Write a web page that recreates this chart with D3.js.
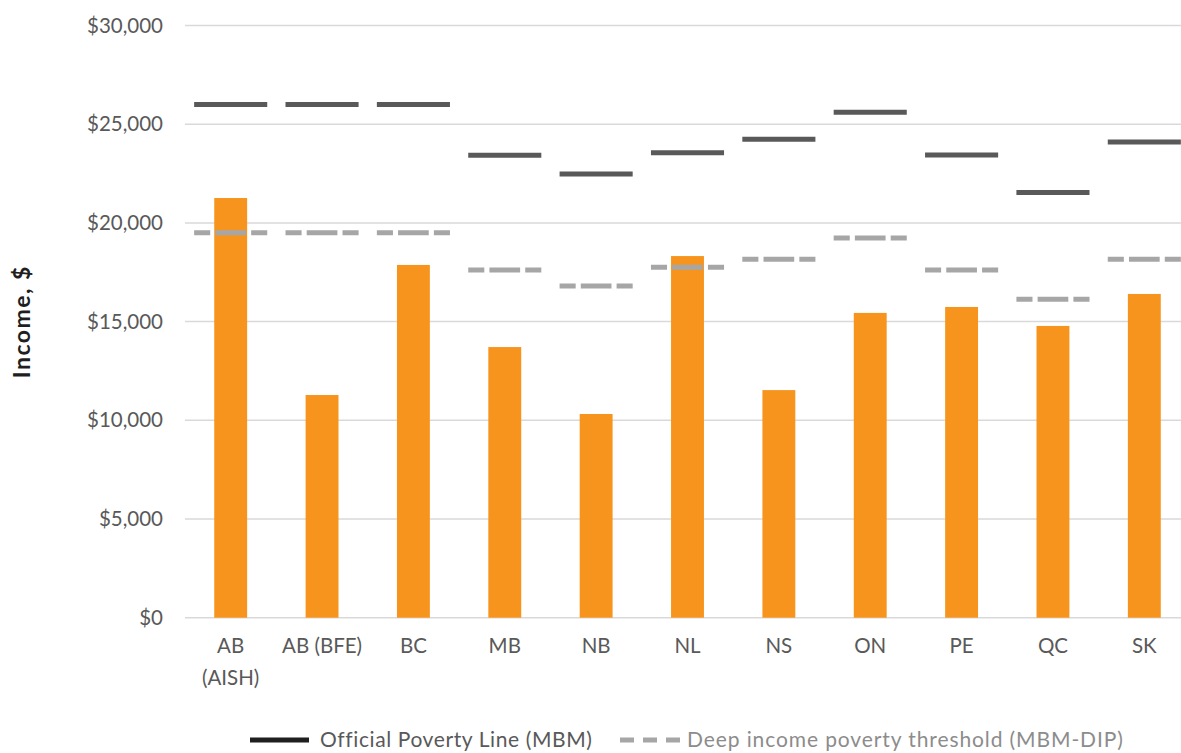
<!DOCTYPE html>
<html>
<head>
<meta charset="utf-8">
<script src="https://cdn.jsdelivr.net/npm/d3@7"></script>
<style>
  body { margin: 0; background: #fff; }
  svg { display: block; font-family: Lato, "Open Sans", sans-serif; }
</style>
</head>
<body>
<div id="chart"></div>
<script>
const categories = ["AB\n(AISH)", "AB (BFE)", "BC", "MB", "NB", "NL", "NS", "ON", "PE", "QC", "SK"];
const income = [21260, 11280, 17870, 13710, 10320, 18320, 11530, 15440, 15740, 14780, 16400];
const officialLine = [26000, 26000, 26000, 23430, 22480, 23560, 24240, 25600, 23440, 21540, 24100];
const deepLine = [19500, 19500, 19500, 17610, 16800, 17750, 18160, 19230, 17610, 16130, 18160];
const yTicks = [0, 5000, 10000, 15000, 20000, 25000, 30000];

const width = 1181;
const height = 753;
const margin = {top: 25.5, right: -9, bottom: 135.3, left: 185};

const svg = d3.select("#chart").append("svg")
  .attr("width", width)
  .attr("height", height);

const x = d3.scaleBand()
  .domain(d3.range(categories.length))
  .range([margin.left, width - margin.right])
  .padding(0);

const y = d3.scaleLinear()
  .domain([0, 30000])
  .range([height - margin.bottom, margin.top]);

const textColor = "#595959";

// gridlines
svg.append("g")
  .selectAll("line")
  .data(yTicks)
  .join("line")
  .attr("x1", margin.left)
  .attr("x2", width - margin.right)
  .attr("y1", d => y(d))
  .attr("y2", d => y(d))
  .attr("stroke", "#d9d9d9")
  .attr("stroke-width", 1.5);

// y axis labels
svg.append("g")
  .selectAll("text")
  .data(yTicks)
  .join("text")
  .attr("x", 163)
  .attr("y", d => y(d))
  .attr("dy", "0.35em")
  .attr("text-anchor", "end")
  .attr("font-size", "20.5px")
  .attr("fill", textColor)
  .text(d => "$" + d3.format(",")(d));

svg.append("text")
  .attr("transform", `translate(30, ${y(15000)}) rotate(-90)`)
  .attr("text-anchor", "middle")
  .attr("font-size", "23px")
  .attr("font-weight", "bold")
  .attr("letter-spacing", "1.5px")
  .attr("fill", "#1f1f1f")
  .text("Income, $");

// bars
const barW = x.bandwidth() * 0.36;
svg.append("g")
  .selectAll("rect")
  .data(income)
  .join("rect")
  .attr("x", (d, i) => x(i) + (x.bandwidth() - barW) / 2)
  .attr("y", d => y(d))
  .attr("width", barW)
  .attr("height", d => y(0) - y(d))
  .attr("fill", "#f7941d");

// poverty lines
const lineW = x.bandwidth() * 0.8;
svg.append("g")
  .selectAll("line")
  .data(officialLine)
  .join("line")
  .attr("x1", (d, i) => x(i) + (x.bandwidth() - lineW) / 2)
  .attr("x2", (d, i) => x(i) + (x.bandwidth() + lineW) / 2)
  .attr("y1", d => y(d))
  .attr("y2", d => y(d))
  .attr("stroke", "#595959")
  .attr("stroke-width", 5);

svg.append("g")
  .selectAll("line")
  .data(deepLine)
  .join("line")
  .attr("x1", (d, i) => x(i) + (x.bandwidth() - lineW) / 2)
  .attr("x2", (d, i) => x(i) + (x.bandwidth() + lineW) / 2)
  .attr("y1", d => y(d))
  .attr("y2", d => y(d))
  .attr("stroke", "#a6a6a6")
  .attr("stroke-width", 5)
  .attr("stroke-dasharray", `${lineW * 0.22},${lineW * 0.07},${lineW * 0.42},${lineW * 0.07},${lineW * 0.22}`);

// category labels
svg.append("g")
  .selectAll("text")
  .data(categories)
  .join("text")
  .attr("x", (d, i) => x(i) + x.bandwidth() / 2)
  .attr("y", 653)
  .attr("text-anchor", "middle")
  .attr("font-size", "20.5px")
  .attr("fill", textColor)
  .selectAll("tspan")
  .data(d => d.split("\n"))
  .join("tspan")
  .attr("x", function () { return d3.select(this.parentNode).attr("x"); })
  .attr("dy", (d, i) => i === 0 ? 0 : 32)
  .text(d => d);

// legend
const legend = svg.append("g").attr("transform", "translate(0, 740)");
legend.append("line")
  .attr("x1", 250).attr("x2", 309)
  .attr("stroke", "#1f1f1f")
  .attr("stroke-width", 5);
legend.append("text")
  .attr("x", 320)
  .attr("dy", "0.35em")
  .attr("font-size", "21px")
  .attr("letter-spacing", "0.6px")
  .attr("fill", textColor)
  .text("Official Poverty Line (MBM)");
legend.append("line")
  .attr("x1", 620).attr("x2", 680)
  .attr("stroke", "#a6a6a6")
  .attr("stroke-width", 5)
  .attr("stroke-dasharray", "14,9");
legend.append("text")
  .attr("x", 687)
  .attr("dy", "0.35em")
  .attr("font-size", "21px")
  .attr("letter-spacing", "0.9px")
  .attr("fill", "#8c8c8c")
  .text("Deep income poverty threshold (MBM-DIP)");
</script>
</body>
</html>
